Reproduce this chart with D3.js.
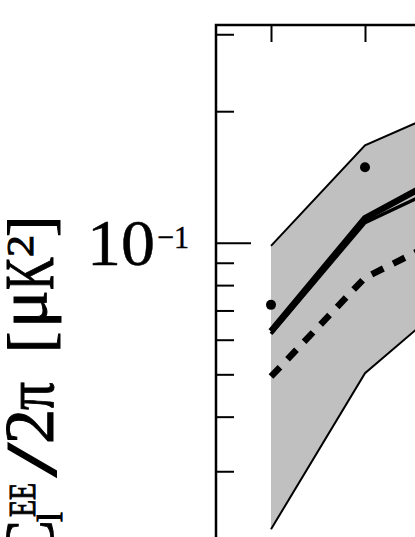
<!DOCTYPE html>
<html>
<head>
<meta charset="utf-8">
<script src="https://cdn.jsdelivr.net/npm/d3@7"></script>
<style>
  body { margin: 0; background: #fff; }
  svg { display: block; }
</style>
</head>
<body>
<svg id="chart" width="415" height="537"></svg>
<script>
// multipoles shown in this part of the plot
const ells = [2, 3, 4];
// shaded band (upper / lower edge)
const bandUpper = [0.0984, 0.167, 0.195];
const bandLower = [0.0221, 0.0503, 0.0679];
// two near-identical solid models
const solidA = [0.0627, 0.1138, 0.1377];
const solidB = [0.0619, 0.1112, 0.1312];
// dashed model
const dashed = [0.0494, 0.0832, 0.0992];
// measured points
const pointEll = [2, 3];
const pointVal = [0.0721, 0.1489];
// axis ticks
const yMajorTicks = [0.1];
const yMinorTicks = [0.03, 0.04, 0.05, 0.06, 0.07, 0.08, 0.09, 0.2, 0.3];
const xMinorTicks = [2, 3];

const svg = d3.select('#chart');
const font = '"Liberation Serif", "DejaVu Serif", serif';

const frameLeft = 216,
    frameTop = 25,
    pxPerDecade = 437;

const x = d3.scaleLog().domain([2, 3]).range([271, 365]);
const yTop = 0.315, yBottom = 0.02;
const y = d3.scaleLog()
    .domain([yBottom, yTop])
    .range([frameTop + pxPerDecade * Math.log10(yTop / yBottom), frameTop]);

const idx = d3.range(ells.length);

// band
svg.append('path')
    .datum(idx)
    .attr('fill', '#c0c0c0')
    .attr('d', d3.area()
        .x(i => x(ells[i]))
        .y0(i => y(bandLower[i]))
        .y1(i => y(bandUpper[i])));

const line = arr => d3.line().x(i => x(ells[i])).y(i => y(arr[i]))(idx);

[bandUpper, bandLower].forEach(arr => {
    svg.append('path')
        .attr('d', line(arr))
        .attr('fill', 'none')
        .attr('stroke', '#000')
        .attr('stroke-width', 2);
});

svg.append('path')
    .attr('d', line(dashed))
    .attr('fill', 'none')
    .attr('stroke', '#000')
    .attr('stroke-width', 6.5)
    .attr('stroke-dasharray', '13,11');

svg.append('path')
    .attr('d', line(solidA))
    .attr('fill', 'none')
    .attr('stroke', '#000')
    .attr('stroke-width', 6.5);

svg.append('path')
    .attr('d', line(solidB))
    .attr('fill', 'none')
    .attr('stroke', '#000')
    .attr('stroke-width', 3.5);

svg.selectAll('circle.pt')
    .data(pointEll)
    .join('circle')
    .attr('class', 'pt')
    .attr('cx', d => x(d))
    .attr('cy', (d, i) => y(pointVal[i]))
    .attr('r', 5)
    .attr('fill', '#000');

// frame (continues beyond the visible crop)
svg.append('rect')
    .attr('x', frameLeft)
    .attr('y', frameTop)
    .attr('width', 500)
    .attr('height', 700)
    .attr('fill', 'none')
    .attr('stroke', '#000')
    .attr('stroke-width', 2.5);

// y ticks
function yTicks(values, size) {
    const g = svg.append('g')
        .attr('transform', `translate(${frameLeft},0)`)
        .call(d3.axisRight(y).tickValues(values).tickSize(size).tickFormat(''));
    g.select('.domain').remove();
    g.selectAll('line').attr('stroke', '#000').attr('stroke-width', 2);
}
yTicks(yMajorTicks, 35);
yTicks(yMinorTicks, 18);

// x ticks along the top
const gx = svg.append('g')
    .attr('transform', `translate(0,${frameTop})`)
    .call(d3.axisBottom(x).tickValues(xMinorTicks).tickSize(17).tickFormat(''));
gx.select('.domain').remove();
gx.selectAll('line').attr('stroke', '#000').attr('stroke-width', 2);

// tick label 10^-1
const yl = y(0.1);
svg.append('text')
    .attr('x', 87)
    .attr('y', yl + 22)
    .attr('font-family', font)
    .attr('font-size', 66)
    .attr('fill', '#000')
    .attr('stroke', '#000')
    .attr('stroke-width', 0.5)
    .attr('textLength', 68)
    .attr('lengthAdjust', 'spacingAndGlyphs')
    .text('10');
svg.append('text')
    .attr('x', 157)
    .attr('y', yl + 5)
    .attr('font-family', font)
    .attr('font-size', 32)
    .attr('fill', '#000')
    .attr('stroke', '#000')
    .attr('stroke-width', 0.4)
    .attr('textLength', 32)
    .attr('lengthAdjust', 'spacingAndGlyphs')
    .text('\u22121');

// y label, drawn piece by piece
const lab = svg.append('g')
    .attr('transform', 'translate(53,562) rotate(-90)')
    .attr('font-family', font)
    .attr('fill', '#000')
    .attr('stroke', '#000')
    .attr('stroke-width', 1);

const pieces = [
    { t: 'C', x: 0, y: 0, size: 70, len: 42 },
    { t: 'l', x: 40, y: 9, size: 35, len: 10 },
    { t: 'EE', x: 45, y: -18, size: 38, len: 34 },
    { t: '/', x: 85, y: 2, size: 72, len: 34 },
    { t: '2', x: 118, y: 0, size: 70 },
    { t: '\u03c0', x: 152, y: 0, size: 70, len: 28 },
    { t: '[', x: 209, y: -2, size: 64 },
    { t: '\u03bc', x: 234, y: -7, size: 70, len: 38 },
    { t: 'K', x: 272, y: 0, size: 70, len: 33 },
    { t: '2', x: 305, y: -20, size: 38, len: 22 },
    { t: ']', x: 325, y: -2, size: 64 }
];
pieces.forEach(p => {
    const t = lab.append('text')
        .attr('x', p.x)
        .attr('y', p.y)
        .attr('font-size', p.size)
        .text(p.t);
    if (p.len) t.attr('textLength', p.len).attr('lengthAdjust', 'spacingAndGlyphs');
});
</script>
</body>
</html>
